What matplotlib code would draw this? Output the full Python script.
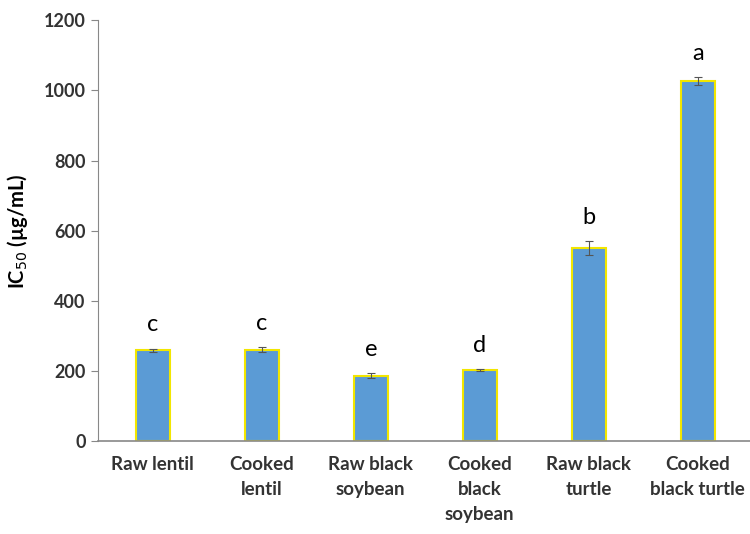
import numpy as np
import matplotlib.pyplot as plt

# datos
categorias = ['Raw lentil', 'Cooked\nlentil', 'Raw black\nsoybean',
              'Cooked\nblack\nsoybean', 'Raw black\nturtle', 'Cooked\nblack turtle']
ic50 = [259, 260, 186, 203, 550, 1027]
errores = [5, 7, 7, 3, 20, 12]
letras = ['c', 'c', 'e', 'd', 'b', 'a']

plt.rcParams['font.family'] = ['Lato', 'DejaVu Sans']

fig = plt.figure(figsize=(7.5, 5.34), dpi=100)
ax = fig.add_axes([0.131, 0.174, 0.872, 0.788])

x = np.arange(len(categorias))
ax.bar(x, ic50, width=0.31, color='#5B9BD5', edgecolor='#F2E600', linewidth=1.5,
       yerr=errores, error_kw=dict(ecolor='#555555', elinewidth=0.8, capsize=3, capthick=0.8))

# letras de significancia
for xi, v, e, l in zip(x, ic50, errores, letras):
    ax.annotate(l, (xi, v + e), xytext=(0, 17), textcoords='offset points',
                ha='center', va='center', fontsize=17, color='black')

ax.set_xlim(-0.5, 5.5)
ax.set_ylim(0, 1200)
ax.set_yticks(np.arange(0, 1201, 200))
ax.set_xticks(x)
ax.set_xticklabels(categorias, fontsize=13.5, fontweight='bold', color='#333333',
                   linespacing=1.55)
for t in ax.get_yticklabels():
    t.set_fontsize(13)
    t.set_fontweight('bold')
    t.set_color('#333333')
ax.tick_params(axis='x', length=0, pad=11)
ax.tick_params(axis='y', length=5, color='#888888', pad=4)

for s in ['top', 'right']:
    ax.spines[s].set_visible(False)
ax.spines['left'].set_color('#888888')
ax.spines['bottom'].set_color('#888888')
ax.spines['bottom'].set_linewidth(1.2)

ax.set_ylabel('IC$_{50}$ (µg/mL)', fontsize=14.5, fontweight='bold', labelpad=10)

plt.savefig('out.png', dpi=100)
